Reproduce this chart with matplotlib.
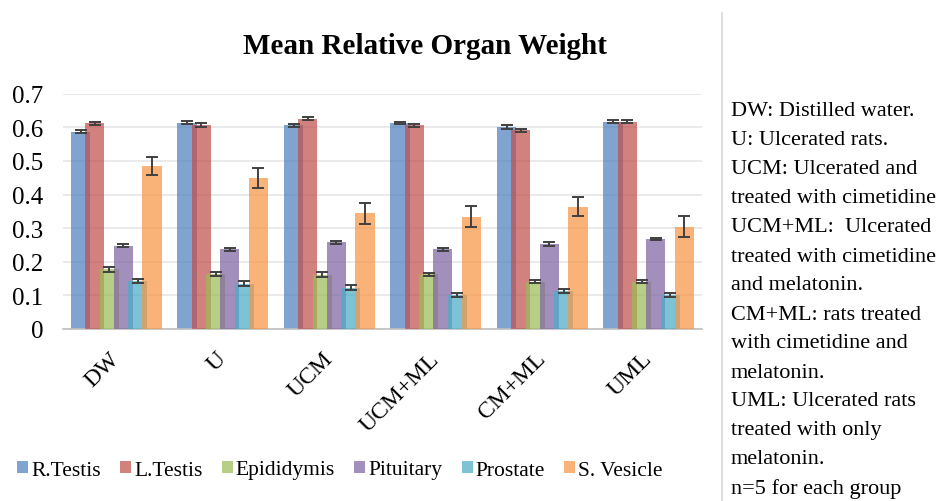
import matplotlib
matplotlib.use("Agg")
import matplotlib.pyplot as plt
import numpy as np

groups = ["DW", "U", "UCM", "UCM+ML", "CM+ML", "UML"]
series = ["R.Testis", "L.Testis", "Epididymis", "Pituitary", "Prostate", "S. Vesicle"]
r_testis = [0.587, 0.614, 0.606, 0.612, 0.601, 0.617]
l_testis = [0.612, 0.607, 0.626, 0.606, 0.591, 0.617]
epididymis = [0.178, 0.165, 0.162, 0.163, 0.141, 0.141]
pituitary = [0.248, 0.237, 0.258, 0.237, 0.253, 0.268]
prostate = [0.143, 0.135, 0.123, 0.101, 0.112, 0.101]
s_vesicle = [0.485, 0.450, 0.344, 0.334, 0.364, 0.304]

err_r_testis = [0.004, 0.005, 0.005, 0.003, 0.005, 0.004]
err_l_testis = [0.004, 0.005, 0.004, 0.004, 0.004, 0.004]
err_epididymis = [0.007, 0.006, 0.007, 0.005, 0.004, 0.004]
err_pituitary = [0.004, 0.004, 0.005, 0.004, 0.005, 0.004]
err_prostate = [0.007, 0.007, 0.007, 0.005, 0.006, 0.005]
err_s_vesicle = [0.028, 0.030, 0.031, 0.031, 0.028, 0.031]

values = [r_testis, l_testis, epididymis, pituitary, prostate, s_vesicle]
errors = [err_r_testis, err_l_testis, err_epididymis, err_pituitary, err_prostate, err_s_vesicle]
colors = ["#4F81BD", "#C0504D", "#9BBB59", "#8064A2", "#4BACC6", "#F79646"]

notes = ["DW: Distilled water.", "U: Ulcerated rats.", "UCM: Ulcerated and",
         "treated with cimetidine", "UCM+ML:  Ulcerated", "treated with cimetidine",
         "and melatonin.", "CM+ML: rats treated", "with cimetidine and",
         "melatonin.", "UML: Ulcerated rats", "treated with only",
         "melatonin.", "n=5 for each group"]

serif = ["Liberation Serif", "DejaVu Serif"]

fig = plt.figure(figsize=(9.44, 5.02), dpi=100)
ax = fig.add_axes([63/944, 1-330/502, (702-63)/944, (330-94.7)/502])

x = np.arange(len(groups))
step = 0.134
width = 0.18
handles = []
for k, (vals, errs, c, name) in enumerate(zip(values, errors, colors, series)):
    pos = x + (k - 2.5) * step
    b = ax.bar(pos, vals, width, color=c, alpha=0.72, linewidth=0, zorder=2 + k, label=name)
    ax.errorbar(pos, vals, yerr=errs, fmt="none", ecolor="#404040", elinewidth=1.4,
                capsize=4, capthick=1.4, zorder=10)
    handles.append(b)

ax.set_xlim(-0.5, len(groups) - 0.5)
ax.set_ylim(0, 0.7)
ax.set_yticks(np.arange(0, 0.71, 0.1))
ax.set_yticklabels(["0"] + [f"{v:.1f}" for v in np.arange(0.1, 0.71, 0.1)],
                   fontfamily=serif, fontsize=18)
ax.tick_params(axis="y", length=0, pad=14)
ax.set_xticks(x)
ax.set_xticklabels(groups, rotation=45, ha="right", va="center", rotation_mode="anchor",
                   fontfamily=serif, fontsize=17)
ax.tick_params(axis="x", length=0, pad=19)
for s in ["left", "right", "top"]:
    ax.spines[s].set_visible(False)
ax.spines["bottom"].set_color("#BFBFBF")
ax.spines["bottom"].set_linewidth(1.2)
ax.yaxis.grid(True, color="#E6E6E6", linewidth=1.2, zorder=0)
ax.set_axisbelow(True)

fig.text(425/944, 1-47/502, "Mean Relative Organ Weight", ha="center", va="center",
         fontfamily=serif, fontweight="bold", fontsize=21)

leg = fig.legend(handles=handles, labels=series, loc="center", bbox_to_anchor=(340/944, 1-471/502),
                 ncol=6, frameon=False, prop={"family": serif, "size": 15.5},
                 handlelength=0.5, handleheight=0.5, handletextpad=0.15, columnspacing=0.9)
for h in leg.legend_handles:
    h.set_alpha(0.72)

fig.add_artist(plt.Line2D([722/944, 722/944], [0, 1-14/502], color="#D9D9D9", linewidth=1.2))

for i, line in enumerate(notes):
    fig.text(731/944, 1-(112 + 29 * i)/502, line, ha="left", va="center",
             fontfamily=serif, fontsize=16)

fig.savefig("out.png", dpi=100)
